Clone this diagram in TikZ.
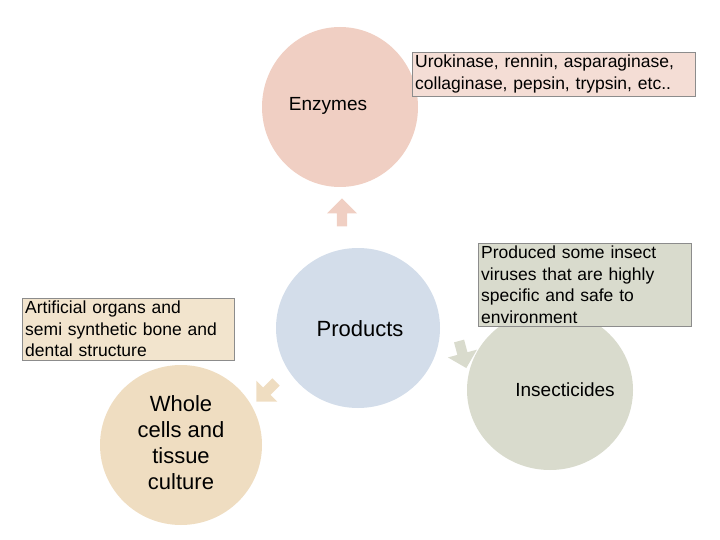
\documentclass[tikz,border=0pt]{standalone}
\usepackage{fontspec}
\setmainfont{Liberation Sans}
\usetikzlibrary{shapes.arrows}
\definecolor{cenz}{HTML}{F0CFC3}
\definecolor{cprod}{HTML}{D3DDEA}
\definecolor{cins}{HTML}{D9DBCD}
\definecolor{cwho}{HTML}{EFDDC1}
\begin{document}
\begin{tikzpicture}[x=1pt,y=-1pt,
 lbl/.style={draw=black!45,align=left,inner sep=3pt,font=\fontsize{17.5}{21.5}\selectfont,anchor=north west},
 barrow/.style={single arrow,draw=none,minimum height=28pt,minimum width=30pt,single arrow head extend=6pt,inner sep=3pt}]
\useasboundingbox (0,0) rectangle (720,540);
\fill[cenz] (340,107) ellipse (78 and 80);
\node[font=\fontsize{19}{21}\selectfont] (enz) at (328,106) {Enzymes};
\fill[cprod] (358,328) ellipse (82 and 80);
\node[font=\fontsize{22}{24}\selectfont] (prod) at (360,329) {Products};
\fill[cins] (550,390) ellipse (83 and 80);
\node[font=\fontsize{19}{21}\selectfont] (ins) at (565,390) {Insecticides};
\fill[cwho] (181,445) ellipse (81 and 80);
\node[align=center,font=\fontsize{22}{26}\selectfont] (who) at (181,443) {Whole\\cells and\\tissue\\culture};
\node[barrow,fill=cenz,rotate=90] (a1) at (342,215) {};
\node[barrow,fill=cins,rotate=-75] (a2) at (462,352) {};
\node[barrow,fill=cwho,rotate=-135] (a3) at (268,390) {};
\node[lbl,fill=cenz!70,text width=277pt] (t1) at (412,52) {Urokinase, rennin, asparaginase,\\collaginase, pepsin, trypsin, etc..};
\node[lbl,fill=cins,text width=207pt] (t2) at (478,243) {Produced some insect\\viruses that are highly\\specific and safe to\\environment};
\node[lbl,fill=cwho!80,text width=206pt] (t3) at (22,298) {Artificial organs and\\semi synthetic bone and\\dental structure};
\end{tikzpicture}
\end{document}
